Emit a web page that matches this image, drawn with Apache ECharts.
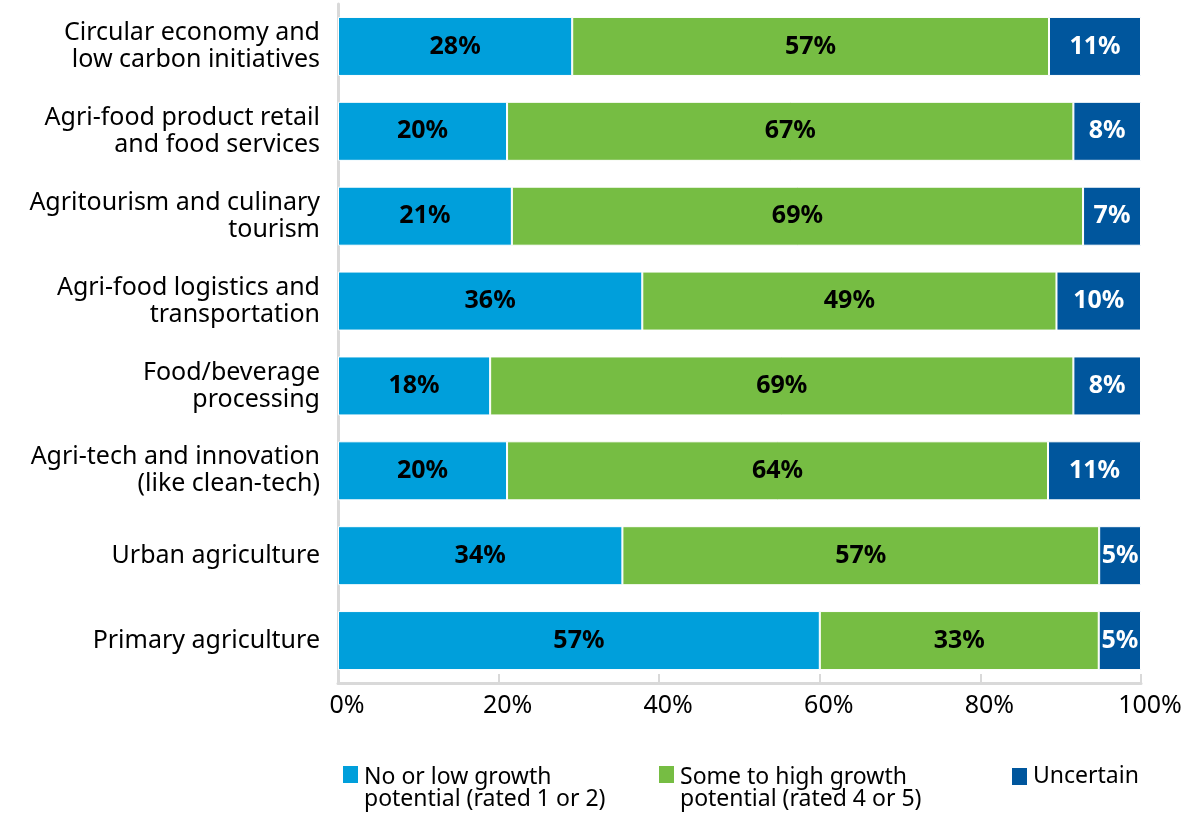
<!DOCTYPE html>
<html>
<head>
<meta charset="utf-8">
<script src="https://cdn.jsdelivr.net/npm/echarts@6/dist/echarts.min.js"></script>
<style>
html,body{margin:0;padding:0;background:#fff;}
#chart{width:1189px;height:814px;}
</style>
</head>
<body>
<div id="chart"></div>
<script>
const categories = [
  "Circular economy and\nlow carbon initiatives",
  "Agri-food product retail\nand food services",
  "Agritourism and culinary\ntourism",
  "Agri-food logistics and\ntransportation",
  "Food/beverage\nprocessing",
  "Agri-tech and innovation\n(like clean-tech)",
  "Urban agriculture",
  "Primary agriculture"
];
const seriesNames = [
  "No or low growth\npotential (rated 1 or 2)",
  "Some to high growth\npotential (rated 4 or 5)",
  "Uncertain"
];
const lowGrowth = [28, 20, 21, 36, 18, 20, 34, 57];
const highGrowth = [57, 67, 69, 49, 69, 64, 57, 33];
const uncertain = [11, 8, 7, 10, 8, 11, 5, 5];
const xTicks = [0, 20, 40, 60, 80, 100];

const colors = ["#009fdb", "#76bd43", "#00569d"];
const FONT = "Noto Sans";
const raw = [lowGrowth, highGrowth, uncertain];
const totals = categories.map((c, i) => lowGrowth[i] + highGrowth[i] + uncertain[i]);

const chart = echarts.init(document.getElementById('chart'));
const series = raw.map((arr, s) => ({
  name: seriesNames[s],
  type: 'bar',
  stack: 'total',
  barWidth: 59,
  data: arr.map((v, i) => v / totals[i] * 100),
  itemStyle: { color: colors[s], borderColor: '#fff', borderWidth: 1 },
  label: {
    show: true,
    position: 'inside',
    fontFamily: FONT,
    fontWeight: 'bold',
    fontSize: 25,
    color: s === 2 ? '#fff' : '#000',
    formatter: p => arr[p.dataIndex] + '%'
  }
}));

const tallIcon = 'path://M0,0H17V19H0Z M17,45.9L17,46';
const legendLefts = [341, 657, 1010];
const legends = seriesNames.map((n, i) => ({
  data: [n],
  left: legendLefts[i],
  top: i < 2 ? 764 : 765,
  orient: 'horizontal',
  icon: i < 2 ? tallIcon : 'rect',
  itemWidth: 17,
  itemHeight: i < 2 ? 46 : 19,
  itemGap: 0,
  padding: 0,
  selectedMode: false,
  textStyle: {
    fontFamily: FONT,
    fontSize: 23,
    color: '#000',
    lineHeight: 22
  }
}));

chart.setOption({
  animation: false,
  backgroundColor: '#fff',
  color: colors,
  grid: { left: 338, right: 48, top: 4, height: 679, containLabel: false },
  legend: legends,
  xAxis: {
    type: 'value',
    min: xTicks[0],
    max: xTicks[xTicks.length - 1],
    interval: 20,
    splitLine: { show: false },
    axisLine: { show: true, lineStyle: { color: '#d9d9d9', width: 3 } },
    axisTick: { show: true, inside: true, length: 9, lineStyle: { color: '#d9d9d9', width: 2 } },
    axisLabel: {
      margin: 10,
      fontFamily: FONT,
      fontSize: 25,
      color: '#000',
      padding: [0, 0, 0, 18],
      formatter: v => v + '%'
    }
  },
  yAxis: {
    type: 'category',
    data: categories,
    inverse: true,
    axisLine: { show: true, lineStyle: { color: '#d9d9d9', width: 3 } },
    axisTick: { show: false },
    axisLabel: {
      margin: 18,
      fontFamily: FONT,
      fontSize: 25,
      lineHeight: 27,
      color: '#000',
      align: 'right'
    }
  },
  series: series
});
</script>
</body>
</html>
